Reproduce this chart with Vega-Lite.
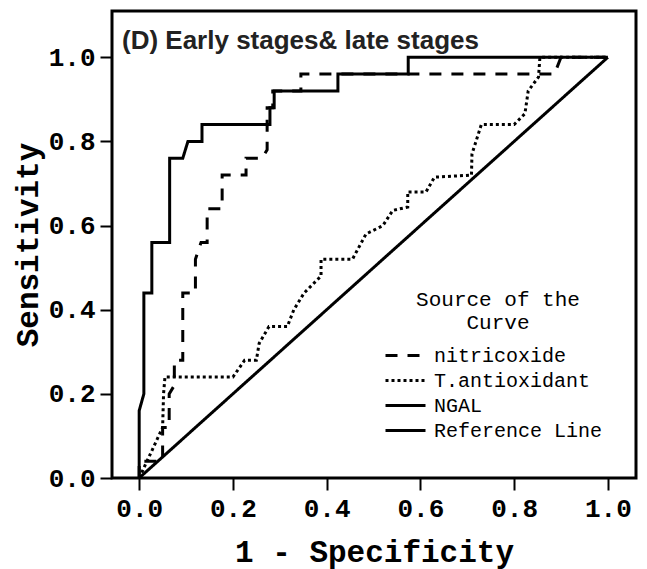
{
  "$schema": "https://vega.github.io/schema/vega-lite/v6.json",
  "width": 524,
  "height": 467,
  "autosize": {"type": "none"},
  "padding": {"left": 112, "top": 11, "right": 11, "bottom": 91},
  "background": "white",
  "title": {
    "text": "(D) Early stages& late stages",
    "anchor": "start",
    "frame": "group",
    "font": "Liberation Sans",
    "fontSize": 26,
    "fontWeight": "bold",
    "color": "#222222",
    "offset": 0,
    "dx": 10,
    "dy": 64,
    "baseline": "alphabetic"
  },
  "data": {
    "values": [
      {"curve": "NGAL", "step": 0, "fpr": 0, "tpr": 0},
      {"curve": "NGAL", "step": 1, "fpr": 0, "tpr": 0.16},
      {"curve": "NGAL", "step": 2, "fpr": 0.01, "tpr": 0.2},
      {"curve": "NGAL", "step": 3, "fpr": 0.01, "tpr": 0.44},
      {"curve": "NGAL", "step": 4, "fpr": 0.027, "tpr": 0.44},
      {"curve": "NGAL", "step": 5, "fpr": 0.027, "tpr": 0.56},
      {"curve": "NGAL", "step": 6, "fpr": 0.065, "tpr": 0.56},
      {"curve": "NGAL", "step": 7, "fpr": 0.065, "tpr": 0.76},
      {"curve": "NGAL", "step": 8, "fpr": 0.093, "tpr": 0.76},
      {"curve": "NGAL", "step": 9, "fpr": 0.104, "tpr": 0.8},
      {"curve": "NGAL", "step": 10, "fpr": 0.134, "tpr": 0.8},
      {"curve": "NGAL", "step": 11, "fpr": 0.134, "tpr": 0.84},
      {"curve": "NGAL", "step": 12, "fpr": 0.279, "tpr": 0.84},
      {"curve": "NGAL", "step": 13, "fpr": 0.279, "tpr": 0.88},
      {"curve": "NGAL", "step": 14, "fpr": 0.288, "tpr": 0.88},
      {"curve": "NGAL", "step": 15, "fpr": 0.288, "tpr": 0.92},
      {"curve": "NGAL", "step": 16, "fpr": 0.424, "tpr": 0.92},
      {"curve": "NGAL", "step": 17, "fpr": 0.424, "tpr": 0.96},
      {"curve": "NGAL", "step": 18, "fpr": 0.574, "tpr": 0.96},
      {"curve": "NGAL", "step": 19, "fpr": 0.574, "tpr": 1.0},
      {"curve": "NGAL", "step": 20, "fpr": 1.0, "tpr": 1.0},

      {"curve": "nitricoxide", "step": 0, "fpr": 0, "tpr": 0},
      {"curve": "nitricoxide", "step": 1, "fpr": 0, "tpr": 0.04},
      {"curve": "nitricoxide", "step": 2, "fpr": 0.05, "tpr": 0.04},
      {"curve": "nitricoxide", "step": 3, "fpr": 0.05, "tpr": 0.12},
      {"curve": "nitricoxide", "step": 4, "fpr": 0.064, "tpr": 0.12},
      {"curve": "nitricoxide", "step": 5, "fpr": 0.064, "tpr": 0.2},
      {"curve": "nitricoxide", "step": 6, "fpr": 0.075, "tpr": 0.22},
      {"curve": "nitricoxide", "step": 7, "fpr": 0.075, "tpr": 0.28},
      {"curve": "nitricoxide", "step": 8, "fpr": 0.093, "tpr": 0.28},
      {"curve": "nitricoxide", "step": 9, "fpr": 0.093, "tpr": 0.44},
      {"curve": "nitricoxide", "step": 10, "fpr": 0.12, "tpr": 0.44},
      {"curve": "nitricoxide", "step": 11, "fpr": 0.12, "tpr": 0.52},
      {"curve": "nitricoxide", "step": 12, "fpr": 0.132, "tpr": 0.56},
      {"curve": "nitricoxide", "step": 13, "fpr": 0.145, "tpr": 0.56},
      {"curve": "nitricoxide", "step": 14, "fpr": 0.145, "tpr": 0.64},
      {"curve": "nitricoxide", "step": 15, "fpr": 0.177, "tpr": 0.64},
      {"curve": "nitricoxide", "step": 16, "fpr": 0.177, "tpr": 0.72},
      {"curve": "nitricoxide", "step": 17, "fpr": 0.228, "tpr": 0.72},
      {"curve": "nitricoxide", "step": 18, "fpr": 0.228, "tpr": 0.76},
      {"curve": "nitricoxide", "step": 19, "fpr": 0.262, "tpr": 0.76},
      {"curve": "nitricoxide", "step": 20, "fpr": 0.273, "tpr": 0.78},
      {"curve": "nitricoxide", "step": 21, "fpr": 0.273, "tpr": 0.88},
      {"curve": "nitricoxide", "step": 22, "fpr": 0.285, "tpr": 0.88},
      {"curve": "nitricoxide", "step": 23, "fpr": 0.285, "tpr": 0.92},
      {"curve": "nitricoxide", "step": 24, "fpr": 0.345, "tpr": 0.92},
      {"curve": "nitricoxide", "step": 25, "fpr": 0.345, "tpr": 0.96},
      {"curve": "nitricoxide", "step": 26, "fpr": 0.886, "tpr": 0.96},
      {"curve": "nitricoxide", "step": 27, "fpr": 0.9, "tpr": 1.0},
      {"curve": "nitricoxide", "step": 28, "fpr": 1.0, "tpr": 1.0},

      {"curve": "T.antioxidant", "step": 0, "fpr": 0, "tpr": 0},
      {"curve": "T.antioxidant", "step": 1, "fpr": 0.05, "tpr": 0.12},
      {"curve": "T.antioxidant", "step": 2, "fpr": 0.052, "tpr": 0.2},
      {"curve": "T.antioxidant", "step": 3, "fpr": 0.055, "tpr": 0.24},
      {"curve": "T.antioxidant", "step": 4, "fpr": 0.07, "tpr": 0.24},
      {"curve": "T.antioxidant", "step": 5, "fpr": 0.2, "tpr": 0.24},
      {"curve": "T.antioxidant", "step": 6, "fpr": 0.225, "tpr": 0.28},
      {"curve": "T.antioxidant", "step": 7, "fpr": 0.25, "tpr": 0.28},
      {"curve": "T.antioxidant", "step": 8, "fpr": 0.256, "tpr": 0.32},
      {"curve": "T.antioxidant", "step": 9, "fpr": 0.277, "tpr": 0.36},
      {"curve": "T.antioxidant", "step": 10, "fpr": 0.316, "tpr": 0.36},
      {"curve": "T.antioxidant", "step": 11, "fpr": 0.33, "tpr": 0.4},
      {"curve": "T.antioxidant", "step": 12, "fpr": 0.352, "tpr": 0.44},
      {"curve": "T.antioxidant", "step": 13, "fpr": 0.388, "tpr": 0.48},
      {"curve": "T.antioxidant", "step": 14, "fpr": 0.388, "tpr": 0.52},
      {"curve": "T.antioxidant", "step": 15, "fpr": 0.455, "tpr": 0.52},
      {"curve": "T.antioxidant", "step": 16, "fpr": 0.484, "tpr": 0.58},
      {"curve": "T.antioxidant", "step": 17, "fpr": 0.52, "tpr": 0.6},
      {"curve": "T.antioxidant", "step": 18, "fpr": 0.541, "tpr": 0.636},
      {"curve": "T.antioxidant", "step": 19, "fpr": 0.573, "tpr": 0.644},
      {"curve": "T.antioxidant", "step": 20, "fpr": 0.573, "tpr": 0.68},
      {"curve": "T.antioxidant", "step": 21, "fpr": 0.612, "tpr": 0.68},
      {"curve": "T.antioxidant", "step": 22, "fpr": 0.63, "tpr": 0.715},
      {"curve": "T.antioxidant", "step": 23, "fpr": 0.709, "tpr": 0.72},
      {"curve": "T.antioxidant", "step": 24, "fpr": 0.71, "tpr": 0.77},
      {"curve": "T.antioxidant", "step": 25, "fpr": 0.73, "tpr": 0.84},
      {"curve": "T.antioxidant", "step": 26, "fpr": 0.8, "tpr": 0.84},
      {"curve": "T.antioxidant", "step": 27, "fpr": 0.823, "tpr": 0.866},
      {"curve": "T.antioxidant", "step": 28, "fpr": 0.83, "tpr": 0.92},
      {"curve": "T.antioxidant", "step": 29, "fpr": 0.852, "tpr": 0.953},
      {"curve": "T.antioxidant", "step": 30, "fpr": 0.855, "tpr": 1.0},
      {"curve": "T.antioxidant", "step": 31, "fpr": 1.0, "tpr": 1.0},

      {"curve": "Reference Line", "step": 0, "fpr": 0, "tpr": 0},
      {"curve": "Reference Line", "step": 1, "fpr": 1, "tpr": 1}
    ]
  },
  "mark": {"type": "line", "color": "black", "strokeWidth": 3, "strokeJoin": "miter", "clip": true},
  "encoding": {
    "x": {
      "field": "fpr",
      "type": "quantitative",
      "scale": {"domain": [-0.058, 1.06], "nice": false, "zero": false},
      "axis": {
        "title": "1 - Specificity",
        "values": [0, 0.2, 0.4, 0.6, 0.8, 1.0],
        "format": ".1f",
        "labelPadding": 5,
        "titlePadding": 16
      }
    },
    "y": {
      "field": "tpr",
      "type": "quantitative",
      "scale": {"domain": [0, 1.11], "nice": false, "zero": false},
      "axis": {
        "title": "Sensitivity",
        "values": [0, 0.2, 0.4, 0.6, 0.8, 1.0],
        "format": ".1f",
        "labelPadding": 5,
        "titlePadding": 4
      }
    },
    "detail": {"field": "curve"},
    "order": {"field": "step", "type": "quantitative"},
    "strokeDash": {
      "field": "curve",
      "type": "nominal",
      "scale": {
        "domain": ["nitricoxide", "T.antioxidant", "NGAL", "Reference Line"],
        "range": [[12, 10], [3, 3], [1, 0], [1, 0]]
      },
      "legend": {
        "orient": "none",
        "legendX": 282,
        "legendY": 278,
        "title": ["Source of the", "Curve"],
        "titleFont": "Liberation Mono",
        "titleFontWeight": "normal",
        "titleFontSize": 21,
        "titleColor": "black",
        "titleAnchor": "middle",
        "titleAlign": "center",
        "titleLineHeight": 23,
        "titlePadding": 11,
        "labelFont": "Liberation Mono",
        "labelFontSize": 20,
        "labelColor": "black",
        "labelOffset": 17,
        "labelLimit": 300,
        "symbolType": "M-2,0H2",
        "symbolSize": 400,
        "symbolStrokeWidth": 3,
        "symbolStrokeColor": "black",
        "symbolFillColor": "transparent",
        "rowPadding": 3,
        "padding": 0
      }
    }
  },
  "config": {
    "view": {"stroke": "black", "strokeWidth": 3},
    "axis": {
      "domain": false,
      "grid": false,
      "ticks": true,
      "tickColor": "black",
      "tickWidth": 2,
      "tickSize": 12,
      "labelFont": "Liberation Mono",
      "labelFontWeight": "bold",
      "labelFontSize": 26,
      "labelColor": "black",
      "labelFlush": false,
      "labelOverlap": false,
      "titleFont": "Liberation Mono",
      "titleFontWeight": "bold",
      "titleFontSize": 31,
      "titleColor": "black"
    }
  }
}
